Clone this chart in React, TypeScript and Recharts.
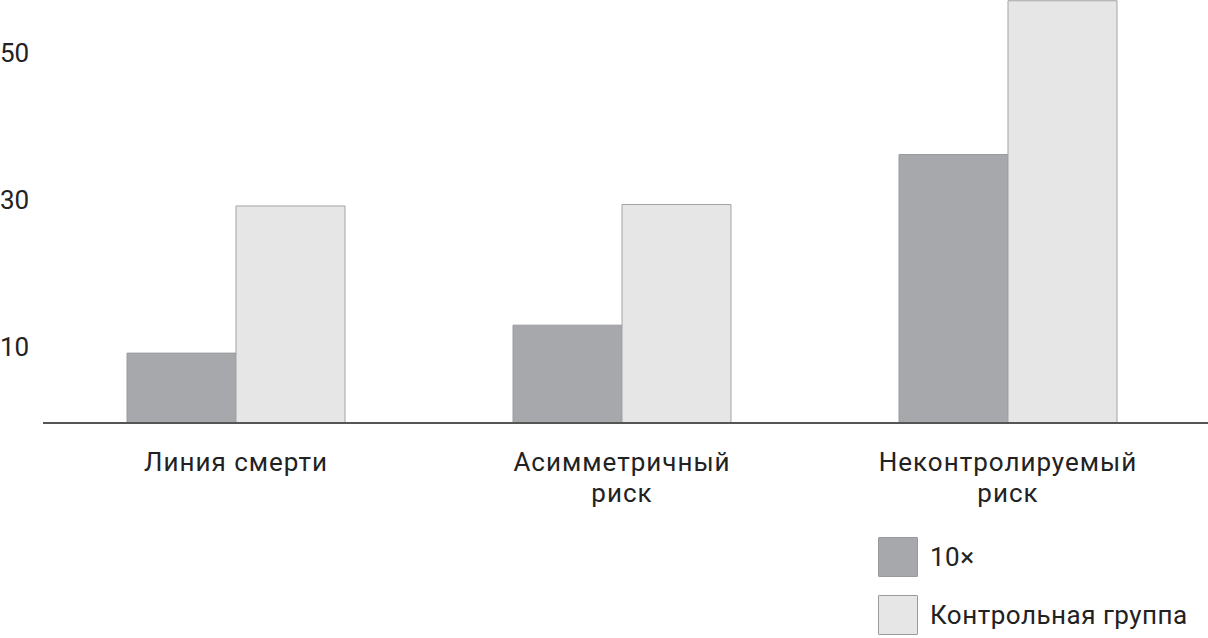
import React from "react";
import { BarChart, Bar, XAxis, YAxis, Legend } from "recharts";

const categories = ["Линия смерти", "Асимметричный\nриск", "Неконтролируемый\nриск"];
const tenX = [9.5, 13.3, 36.5];
const control = [29.5, 29.7, 57.4];
const yTicks = [10, 30, 50];
const seriesNames = ["10×", "Контрольная группа"];

const data = categories.map((c, i) => ({ name: c, tenX: tenX[i], control: control[i] }));

const FONT = "Roboto, 'DejaVu Sans', sans-serif";

const XTick = (props: any) => {
  const { x, y, payload } = props;
  const lines = String(payload.value).split("\n");
  return (
    <text x={x} y={y} textAnchor="middle" fill="#222" fontFamily={FONT} fontSize={26} letterSpacing={1}>
      {lines.map((l: string, i: number) => (
        <tspan key={i} x={x} dy={i === 0 ? 40 : 31}>{l}</tspan>
      ))}
    </text>
  );
};

const YTick = (props: any) => {
  const { y, payload } = props;
  return (
    <text x={0} y={y + 7} textAnchor="start" fill="#222" fontFamily={FONT} fontSize={26}>
      {payload.value}
    </text>
  );
};

const LegendContent = (props: any) => {
  const payload = props.payload || [];
  return (
    <div>
      {payload.map((p: any, i: number) => (
        <div key={i} style={{ display: "flex", alignItems: "center", height: 40, marginBottom: 18 }}>
          <div style={{ width: 38, height: 38, background: p.color, border: "1px solid #9a9a9c", borderRadius: 1 }} />
          <span style={{ marginLeft: 12, fontFamily: FONT, fontSize: 26, color: "#222", letterSpacing: 0.5 }}>{p.value}</span>
        </div>
      ))}
    </div>
  );
};

export default function App() {
  return (
    <div style={{ position: "absolute", left: 0, top: 0 }}>
      <BarChart
        width={1208}
        height={638}
        data={data}
        margin={{ top: 0, right: 0, bottom: 19, left: 0 }}
        barCategoryGap={84}
        barGap={0}
      >
        <XAxis
          dataKey="name"
          interval={0}
          tickLine={false}
          axisLine={{ stroke: "#555", strokeWidth: 2 }}
          tick={<XTick />}
          height={80}
          padding={{ left: 0, right: 7 }}
        />
        <YAxis
          width={43}
          domain={[0, 57.5]}
          ticks={yTicks}
          allowDataOverflow
          axisLine={false}
          tickLine={false}
          tick={<YTick />}
        />
        <Legend
          content={<LegendContent />}
          wrapperStyle={{ position: "absolute", left: 878, top: 537, width: 330 }}
        />
        <Bar dataKey="tenX" name={seriesNames[0]} fill="#a7a8ab" stroke="#9a9b9e" strokeWidth={1} isAnimationActive={false} />
        <Bar dataKey="control" name={seriesNames[1]} fill="#e6e6e6" stroke="#a3a3a3" strokeWidth={1} isAnimationActive={false} />
      </BarChart>
    </div>
  );
}
